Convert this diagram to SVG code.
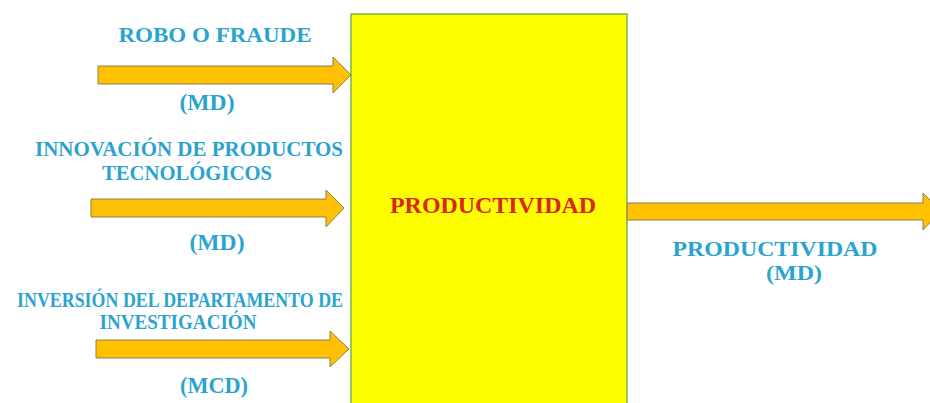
<svg xmlns="http://www.w3.org/2000/svg" width="930" height="403" viewBox="0 0 930 403">
<style>
.lbl{font-family:"Liberation Serif","Times New Roman",serif;font-weight:bold;fill:#2BA3CF;text-anchor:middle}
.arr{fill:#FFC000;stroke:#8E7F55;stroke-width:1}
.box{fill:#FFFF00;stroke:#79B543;stroke-width:1.5}
.title{font-family:"Liberation Serif","Times New Roman",serif;font-weight:bold;fill:#D9261C;text-anchor:middle}
</style>
<rect width="930" height="403" fill="#FFFFFF"/>
<g id="productividad">
<rect class="box" x="351" y="14" width="276" height="400"/>
<text class="title" x="493" y="213" font-size="23" textLength="206" lengthAdjust="spacingAndGlyphs">PRODUCTIVIDAD</text>
</g>
<g id="connectors">
<polygon class="arr" points="98,66 333,66 333,57 351,75 333,93 333,84 98,84"/>
<polygon class="arr" points="91,199 326,199 326,190 344,208 326,227 326,217 91,217"/>
<polygon class="arr" points="96,340 330,340 330,331 349,349 330,367 330,358 96,358"/>
<polygon class="arr" points="627,203 923,203 923,193 941,211 923,230 923,220 627,220"/>
</g>
<g id="robo">
<text class="lbl" x="215" y="42" font-size="22" textLength="193" lengthAdjust="spacingAndGlyphs">ROBO O FRAUDE</text>
<text class="lbl" x="207" y="110" font-size="23" textLength="55" lengthAdjust="spacingAndGlyphs">(MD)</text>
</g>
<g id="innovacion">
<text class="lbl" x="189" y="156" font-size="20" textLength="308" lengthAdjust="spacingAndGlyphs">INNOVACIÓN DE PRODUCTOS</text>
<text class="lbl" x="187" y="179.5" font-size="20" textLength="170" lengthAdjust="spacingAndGlyphs">TECNOLÓGICOS</text>
<text class="lbl" x="217" y="250" font-size="23" textLength="55" lengthAdjust="spacingAndGlyphs">(MD)</text>
</g>
<g id="inversion">
<text class="lbl" x="180" y="306.5" font-size="20" textLength="326" lengthAdjust="spacingAndGlyphs">INVERSIÓN DEL DEPARTAMENTO DE</text>
<text class="lbl" x="178" y="329" font-size="20" textLength="157" lengthAdjust="spacingAndGlyphs">INVESTIGACIÓN</text>
<text class="lbl" x="214" y="393" font-size="23" textLength="68" lengthAdjust="spacingAndGlyphs">(MCD)</text>
</g>
<g id="salida">
<text class="lbl" x="775" y="256" font-size="22" textLength="205" lengthAdjust="spacingAndGlyphs">PRODUCTIVIDAD</text>
<text class="lbl" x="794" y="280" font-size="21" textLength="56" lengthAdjust="spacingAndGlyphs">(MD)</text>
</g>
</svg>
